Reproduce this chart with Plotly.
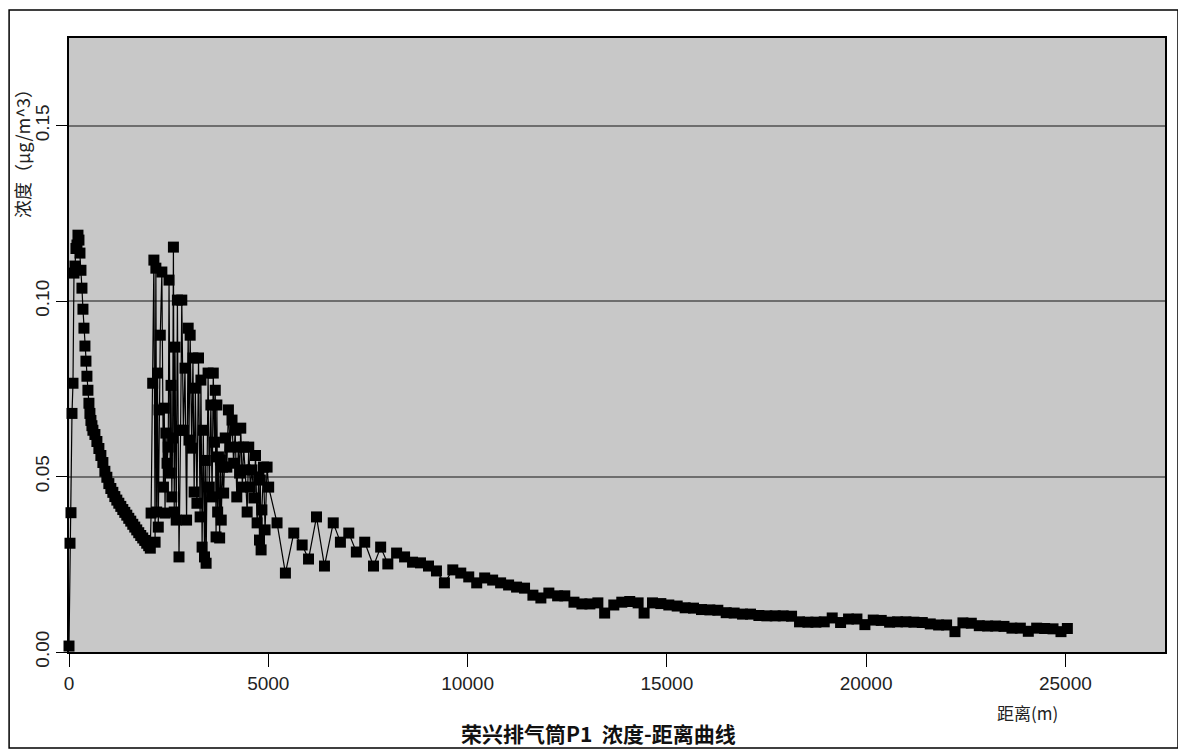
import plotly.graph_objects as go

# Near-field: rise to peak and smooth decline (distance m, concentration μg/m^3)
near_x = [0, 25, 50, 75, 100, 125, 150, 175, 200, 225, 250, 275, 300, 325, 350, 375,
          400, 425, 450, 475, 500, 525, 550, 575, 600, 650, 700, 750, 800, 850, 900,
          950, 1000, 1050, 1100, 1150, 1200, 1250, 1300, 1350, 1400, 1450, 1500, 1550,
          1600, 1650, 1700, 1750, 1800, 1850, 1900, 1950, 2000, 2040]
near_y = [0.0017, 0.0310, 0.0397, 0.0680, 0.0766, 0.1080, 0.1100, 0.1150, 0.1160, 0.1188,
          0.1174, 0.1137, 0.1088, 0.1037, 0.0977, 0.0923, 0.0872, 0.0829, 0.0786, 0.0746,
          0.0709, 0.0680, 0.0660, 0.0645, 0.0632, 0.0620, 0.0600, 0.0580, 0.0560, 0.0540,
          0.0515, 0.0498, 0.0480, 0.0466, 0.0455, 0.0443, 0.0433, 0.0424, 0.0415, 0.0406,
          0.0398, 0.0390, 0.0381, 0.0373, 0.0364, 0.0356, 0.0348, 0.0340, 0.0332, 0.0325,
          0.0318, 0.0310, 0.0303, 0.0296]

# Oscillating region 2 km - 5.2 km
mid_x = [2060, 2100, 2130, 2160, 2180, 2200, 2220, 2240, 2260, 2290, 2330, 2370, 2390,
         2410, 2430, 2460, 2490, 2510, 2540, 2560, 2580, 2600, 2620, 2640, 2660, 2690,
         2720, 2760, 2800, 2830, 2870, 2910, 2950, 2990, 3010, 3040, 3080, 3110, 3140,
         3170, 3210, 3250, 3290, 3310, 3340, 3370, 3400, 3420, 3440, 3490, 3520, 3560,
         3590, 3620, 3650, 3670, 3690, 3710, 3730, 3750, 3780, 3800, 3820, 3850, 3880,
         3920, 3960, 4000, 4040, 4090, 4130, 4170, 4210, 4250, 4280, 4310, 4350, 4380,
         4420, 4470, 4510, 4550, 4590, 4640, 4680, 4720, 4760, 4780, 4800, 4820, 4840,
         4880, 4920, 4970, 5010, 5220]
mid_y = [0.0396, 0.0766, 0.1117, 0.0313, 0.1094, 0.0399, 0.0795, 0.0356, 0.0690, 0.0903,
         0.1083, 0.0470, 0.0695, 0.0396, 0.0624, 0.0538, 0.0584, 0.1060, 0.0510, 0.0760,
         0.0442, 0.0610, 0.1154, 0.0399, 0.0869, 0.0376, 0.1003, 0.0271, 0.0632, 0.1003,
         0.0632, 0.0809, 0.0376, 0.0923, 0.0604, 0.0903, 0.0581, 0.0838, 0.0456, 0.0752,
         0.0424, 0.0838, 0.0385, 0.0775, 0.0299, 0.0632, 0.0271, 0.0546, 0.0253, 0.0795,
         0.0470, 0.0704, 0.0442, 0.0795, 0.0598, 0.0746, 0.0328, 0.0704, 0.0399, 0.0556,
         0.0325, 0.0547, 0.0376, 0.0527, 0.0453, 0.0610, 0.0527, 0.0690, 0.0584, 0.0661,
         0.0538, 0.0632, 0.0442, 0.0584, 0.0510, 0.0638, 0.0470, 0.0584, 0.0519, 0.0399,
         0.0584, 0.0470, 0.0519, 0.0439, 0.0560, 0.0368, 0.0499, 0.0319, 0.0490, 0.0291,
         0.0405, 0.0527, 0.0348, 0.0527, 0.0470, 0.0368]

# Far-field tail 5.4 km - 25 km
far_x = [5430, 5640, 5850, 6010, 6210, 6410, 6630, 6810, 7020, 7210, 7420, 7640, 7820,
         8000, 8220, 8420, 8620, 8820, 9020, 9220, 9420, 9630, 9830, 10030, 10230, 10430,
         10630, 10830, 11030, 11230, 11430, 11640, 11840, 12040, 12260, 12440, 12670,
         12870, 13070, 13270, 13440, 13670, 13870, 14070, 14280, 14430, 14640, 14850,
         15050, 15260, 15460, 15670, 15870, 16080, 16280, 16490, 16690, 16900, 17100,
         17310, 17510, 17720, 17920, 18130, 18330, 18540, 18740, 18950, 19150, 19360,
         19560, 19770, 19970, 20180, 20380, 20590, 20790, 21000, 21200, 21410, 21610,
         21820, 22020, 22230, 22430, 22640, 22840, 23050, 23250, 23460, 23660, 23870,
         24070, 24280, 24480, 24690, 24890, 25050]
far_y = [0.0225, 0.0339, 0.0305, 0.0265, 0.0385, 0.0245, 0.0368, 0.0313, 0.0339, 0.0285,
         0.0313, 0.0245, 0.0299, 0.0251, 0.0282, 0.0271, 0.0256, 0.0254, 0.0245, 0.0231,
         0.0197, 0.0234, 0.0225, 0.0214, 0.0197, 0.0211, 0.0205, 0.0197, 0.0191, 0.0185,
         0.0182, 0.0162, 0.0154, 0.0168, 0.0160, 0.0160, 0.0142, 0.0137, 0.0137, 0.0140,
         0.0111, 0.0134, 0.0142, 0.0144, 0.0140, 0.0111, 0.0140, 0.0138, 0.0134, 0.0131,
         0.0126, 0.0125, 0.0121, 0.0120, 0.0119, 0.0112, 0.0111, 0.0108, 0.0108, 0.0104,
         0.0103, 0.0103, 0.0103, 0.0102, 0.0086, 0.0085, 0.0085, 0.0086, 0.0097, 0.0084,
         0.0094, 0.0094, 0.0078, 0.0091, 0.0090, 0.0085, 0.0086, 0.0086, 0.0085, 0.0084,
         0.0080, 0.0077, 0.0077, 0.0058, 0.0083, 0.0082, 0.0075, 0.0074, 0.0074, 0.0073,
         0.0068, 0.0068, 0.0059, 0.0068, 0.0067, 0.0066, 0.0058, 0.0067]

x_ticks = [0, 5000, 10000, 15000, 20000, 25000]
y_ticks = [0.00, 0.05, 0.10, 0.15]
y_tick_text = ["0.00", "0.05", "0.10", "0.15"]

dist = near_x + mid_x + far_x
conc = near_y + mid_y + far_y

fig = go.Figure()
fig.add_trace(go.Scatter(
    x=dist, y=conc, mode="lines+markers",
    line=dict(color="black", width=1.2),
    marker=dict(symbol="square", size=11, color="black"),
    cliponaxis=False, showlegend=False,
))

num_font = "Liberation Sans, Arial, sans-serif"

# page has an 8px body margin, so the figure is sized/offset to compensate
fig.update_layout(
    width=1178, height=743,
    margin=dict(l=61, r=21, t=30, b=99),
    paper_bgcolor="white",
    plot_bgcolor="#C8C8C8",
    xaxis=dict(
        range=[0, 27500], tickvals=x_ticks, ticktext=[str(v) for v in x_ticks],
        ticks="outside", ticklen=13, tickcolor="black", tickwidth=1,
        showgrid=False, zeroline=False,
        showline=True, linecolor="black", linewidth=1.5, mirror=True,
        tickfont=dict(family=num_font, size=19, color="#222"),
    ),
    yaxis=dict(
        range=[0, 0.175], tickvals=y_ticks, ticktext=y_tick_text, tickangle=-90,
        ticks="outside", ticklen=11, tickcolor="black", tickwidth=1,
        showgrid=True, gridcolor="#6E6E6E", gridwidth=1.5, zeroline=False,
        showline=True, linecolor="black", linewidth=1.5, mirror=True,
        tickfont=dict(family=num_font, size=19, color="#222"),
    ),
    shapes=[dict(type="rect", xref="paper", yref="paper",
                 x0=(8 - 69) / 1096 + 0.001, x1=(1178 - 69) / 1096,
                 y0=(652 - 748) / 614, y1=(652 - 10) / 614,
                 line=dict(color="black", width=1.5), fillcolor="rgba(0,0,0,0)", layer="below")],
    annotations=[
        dict(text="浓度（μg/m^3）", textangle=-90, xref="paper", yref="paper",
             x=(22 - 69) / 1096, y=(652 - 78) / 614, xanchor="center", yanchor="top",
             showarrow=False, font=dict(family="Noto Sans CJK SC, sans-serif", size=18, color="#222")),
        dict(text="距离(m)", xref="paper", yref="paper",
             x=(1027 - 69) / 1096, y=(652 - 712) / 614, xanchor="center", yanchor="middle",
             showarrow=False, font=dict(family="Noto Sans CJK SC, sans-serif", size=17, color="#222")),
        dict(text="<b>荣兴排气筒P1  浓度-距离曲线</b>", xref="paper", yref="paper",
             x=(598 - 69) / 1096, y=(652 - 733) / 614, xanchor="center", yanchor="middle",
             showarrow=False, font=dict(family="Noto Sans CJK SC, sans-serif", size=21, color="#111")),
    ],
)

fig.write_html("out.html")
